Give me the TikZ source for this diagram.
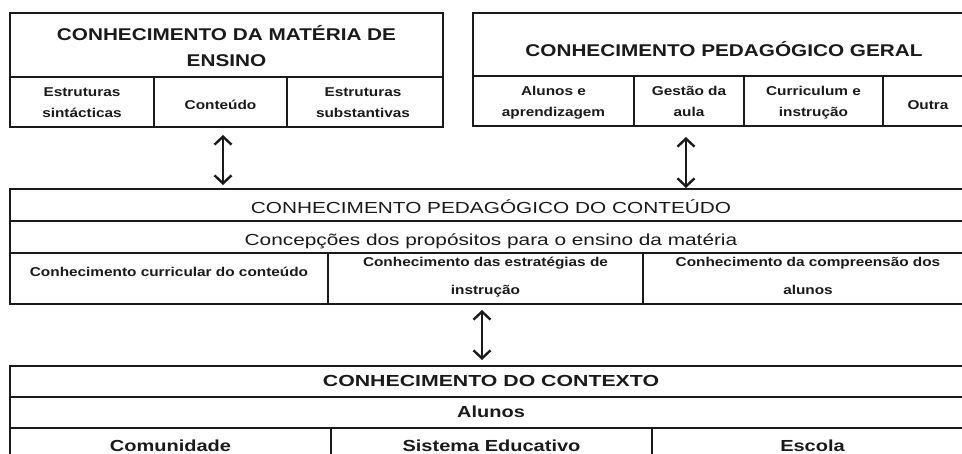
\documentclass[tikz,border=0pt]{standalone}
\usepackage{fontspec}
\setmainfont{Liberation Sans}
\newfontfamily\fa{Liberation Sans}[FakeStretch=1.22]
\newfontfamily\fb{Liberation Sans}[FakeStretch=1.3]
\newfontfamily\fc{Liberation Sans}[FakeStretch=1.25]
\newfontfamily\fd{Liberation Sans}[FakeStretch=1.33]
\newfontfamily\fs{Liberation Sans}[FakeStretch=1.2]
\usetikzlibrary{arrows.meta}
\definecolor{ink}{HTML}{1A1A1A}
\tikzset{
  frame/.style={draw=ink, line width=1.7pt},
  rule/.style={draw=ink, line width=1.5pt},
  txt/.style={anchor=base, inner sep=0pt, text=ink},
  hdrA/.style={txt, font=\fa\bfseries\fontsize{17}{20}\selectfont},
  hdrB/.style={txt, font=\fb\fontsize{16}{19}\selectfont},
  hdrC/.style={txt, font=\fc\bfseries\fontsize{16}{19}\selectfont},
  hdrD/.style={txt, font=\fd\bfseries\fontsize{16}{19}\selectfont},
  small/.style={txt, font=\fs\bfseries\fontsize{12.8}{15}\selectfont},
  tip/.style={Straight Barb[length=8pt,width=17pt,line width=2.4pt]},
  link/.style={draw=ink, line width=1.9pt, {Straight Barb[length=8pt,width=17pt,line width=2.4pt]}-{Straight Barb[length=8pt,width=17pt,line width=2.4pt]}},
}
\begin{document}
\begin{tikzpicture}[x=1pt,y=-1pt]
\useasboundingbox (0,0) rectangle (962,454);
\clip (0,0) rectangle (962,454);
\fill[white] (0,0) rectangle (962,454);

% ---------- top-left box
\draw[frame] (10,13) rectangle (443,127);
\draw[rule] (10,77) -- (443,77);
\draw[rule] (154,77) -- (154,127);
\draw[rule] (287,77) -- (287,127);
\node[hdrA] (tlh1) at (226.5,40.6) {CONHECIMENTO DA MATÉRIA DE};
\node[hdrA] (tlh2) at (226.5,67) {ENSINO};
\node[small] (tlc1a) at (82,96.5) {Estruturas};
\node[small] (tlc1b) at (82,118) {sintácticas};
\node[small] (tlc2) at (220.5,110) {Conteúdo};
\node[small] (tlc3a) at (363,96.5) {Estruturas};
\node[small] (tlc3b) at (363,118) {substantivas};

% ---------- top-right box
\draw[frame] (473,13) rectangle (980,126);
\draw[rule] (473,76) -- (980,76);
\draw[rule] (634,76) -- (634,126);
\draw[rule] (744,76) -- (744,126);
\draw[rule] (883,76) -- (883,126);
\node[hdrA] (trh) at (724,56.5) {CONHECIMENTO PEDAGÓGICO GERAL};
\node[small] (trc1a) at (553.5,96) {Alunos e};
\node[small] (trc1b) at (553.5,117) {aprendizagem};
\node[small] (trc2a) at (689,96) {Gestão da};
\node[small] (trc2b) at (689,117) {aula};
\node[small] (trc3a) at (813.5,96) {Curriculum e};
\node[small] (trc3b) at (813.5,117) {instrução};
\node[small] (trc4) at (928,110) {Outra};

% ---------- middle box
\draw[frame] (10,189) rectangle (980,304);
\draw[rule] (10,221) -- (980,221);
\draw[rule] (10,253) -- (980,253);
\draw[rule] (328,253) -- (328,304);
\draw[rule] (643,253) -- (643,304);
\node[hdrB] (mh) at (491,213.5) {CONHECIMENTO PEDAGÓGICO DO CONTEÚDO};
\node[hdrB] (ms) at (491,246) {Concepções dos propósitos para o ensino da matéria};
\node[small] (mc1) at (169,277) {Conhecimento curricular do conteúdo};
\node[small] (mc2a) at (485.5,266.5) {Conhecimento das estratégias de};
\node[small] (mc2b) at (485.5,295) {instrução};
\node[small] (mc3a) at (808,266.5) {Conhecimento da compreensão dos};
\node[small] (mc3b) at (808,295) {alunos};

% ---------- bottom box
\draw[frame] (10,366) rectangle (980,480);
\draw[rule] (10,397) -- (980,397);
\draw[rule] (10,428) -- (980,428);
\draw[rule] (331,428) -- (331,480);
\draw[rule] (652,428) -- (652,480);
\node[hdrD] (bh) at (491,386.7) {CONHECIMENTO DO CONTEXTO};
\node[hdrC] (bs) at (491,417.3) {Alunos};
\node[hdrC] (bc1) at (170.5,451.6) {Comunidade};
\node[hdrC] (bc2) at (491.5,451.6) {Sistema Educativo};
\node[hdrC] (bc3) at (812.5,451.6) {Escola};

% ---------- connectors
\coordinate (a1t) at (223,135);
\coordinate (a1b) at (223,185);
\coordinate (a2t) at (686,137);
\coordinate (a2b) at (686,188);
\coordinate (a3t) at (482,310);
\coordinate (a3b) at (482,360);
\draw[link] (a1t) -- (a1b);
\draw[link] (a2t) -- (a2b);
\draw[link] (a3t) -- (a3b);
\end{tikzpicture}
\end{document}
